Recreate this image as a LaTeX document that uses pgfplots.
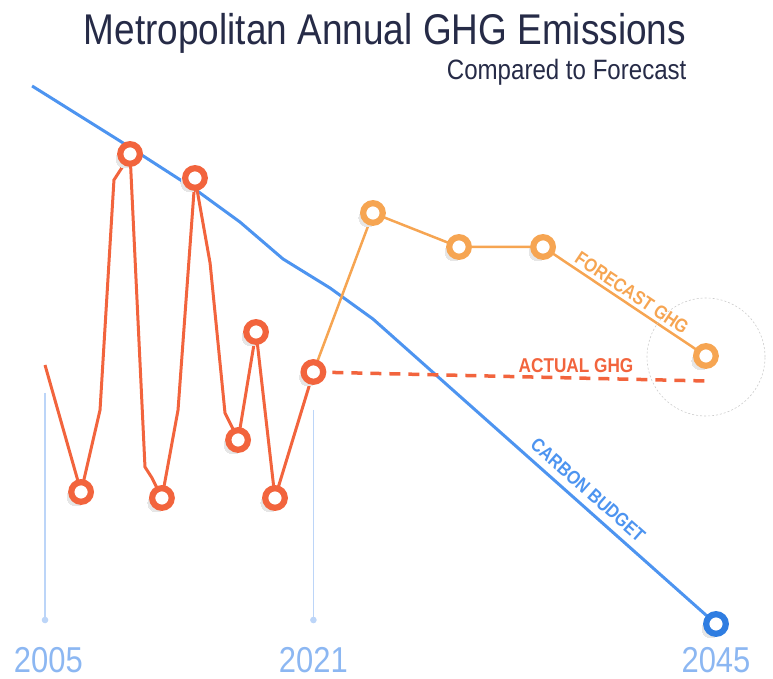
\documentclass[border=0pt]{standalone}
\usepackage{fontspec}
\setmainfont{Liberation Sans}[FakeStretch=0.86]
\usepackage{pgfplots}
\pgfplotsset{compat=1.18}

\definecolor{actual}{HTML}{F2643D}
\definecolor{forecast}{HTML}{F6A552}
\definecolor{budget}{HTML}{4D94F0}
\definecolor{budgetdark}{HTML}{2F7DE1}
\definecolor{yearlbl}{HTML}{8CB7F2}
\definecolor{vline}{HTML}{BCD5F8}
\definecolor{titlecol}{HTML}{262B47}
\definecolor{shade}{HTML}{E6E6E6}

% emissions index (2045 budget = 0)
\pgfplotstableread{
year  ghg
2005.00 25.9
2007.15 13.2
2008.28 21.4
2009.11 44.4
2009.65 45.8
2010.07 47.0
2010.96 15.7
2011.38 14.6
2011.97 12.6
2012.93 21.4
2013.94 44.6
2014.84 36.1
2015.73 21.1
2016.15 19.7
2016.51 18.4
2017.58 29.2
2018.71 12.6
2021.00 25.2
}\actualdata

\pgfplotstableread{
year  ghg
2021.00 25.2
2024.55 41.1
2029.68 37.7
2034.69 37.7
2044.40 26.8
}\forecastdata

\pgfplotstableread{
year  ghg
2004.23 53.8
2009.47 48.3
2014.00 43.4
2016.62 40.2
2019.19 36.5
2021.99 33.6
2024.55 30.5
2045.00 0.0
}\budgetdata

\tikzset{
  ring/.style={mark=*, mark size=9.8pt, mark options={fill=white, line width=6.2pt, solid, draw=#1}},
  shadow/.style={only marks, mark=*, mark size=9pt, color=shade,
    mark options={color=shade, line width=0pt, xshift=-5pt, yshift=-5pt}},
}

\begin{document}
\begin{tikzpicture}
\useasboundingbox (0,0) rectangle (773pt,679pt);
\begin{axis}[
  at={(0,0)}, anchor=south west,
  scale only axis, width=773pt, height=679pt,
  xmin=2002.317, xmax=2048.398, ymin=-5.5, ymax=62.4,
  hide axis, clip=false,
]
% year guide lines
\addplot[vline, line width=1.5pt, mark=*, mark size=2.5pt, mark indices={2}]
  coordinates {(2005,23.1) (2005,0.4)};
\addplot[vline, line width=1.5pt, mark=*, mark size=2.5pt, mark indices={2}]
  coordinates {(2021,21.4) (2021,0.4)};

% shadows under the rings
\addplot[shadow, mark indices={2,6,9,11,15,16,17,18}] table {\actualdata};
\addplot[shadow, mark indices={2,3,4,5}] table {\forecastdata};
\addplot[shadow, mark indices={8}] table {\budgetdata};

% carbon budget
\addplot[budget, line width=3pt, ring=budgetdark, mark indices={8}] table {\budgetdata};

% forecast and flat continuation
\addplot[actual, line width=3.5pt, dash pattern=on 11pt off 8pt]
  coordinates {(2021,25.2) (2044.40,24.3)};
\addplot[forecast, line width=2.5pt, ring=forecast, mark indices={2,3,4,5}] table {\forecastdata};

% actual
\addplot[actual, line width=3pt, ring=actual, mark indices={2,6,9,11,15,16,17,18}] table {\actualdata};

\node[anchor=base, text=yearlbl, font=\fontsize{36}{40}\selectfont] at (axis cs:2005.2,-4.9) {2005};
\node[anchor=base, text=yearlbl, font=\fontsize{36}{40}\selectfont] at (axis cs:2021,-4.9) {2021};
\node[anchor=base, text=yearlbl, font=\fontsize{36}{40}\selectfont] at (axis cs:2045,-4.9) {2045};
\end{axis}

\draw[black!20, line width=0.6pt, dash pattern=on 2pt off 2pt] (706pt,322pt) circle (59pt);

\node[anchor=base, text=titlecol, font=\fontsize{43}{48}\selectfont] at (385pt,634pt)
  {Metropolitan Annual GHG Emissions};
\node[anchor=base east, text=titlecol, font=\fontsize{28}{32}\selectfont] at (690pt,599pt)
  {Compared to Forecast};

\node[text=actual, font=\fontsize{20}{24}\selectfont\bfseries] at (576pt,313pt) {ACTUAL GHG};
\node[text=forecast, rotate=-33.8, font=\fontsize{19}{23}\selectfont\bfseries] at (632pt,386pt) {FORECAST GHG};
\node[text=budget, rotate=-41.5, font=\fontsize{19}{23}\selectfont\bfseries] at (588pt,189pt) {CARBON BUDGET};
\end{tikzpicture}
\end{document}
